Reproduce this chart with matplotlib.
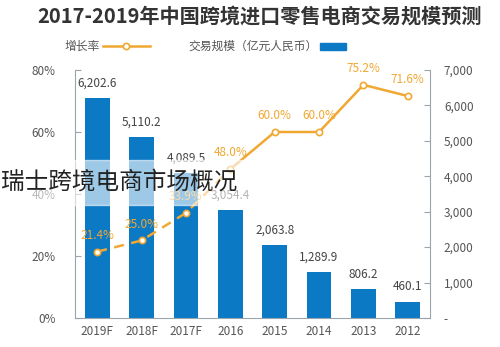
import matplotlib
matplotlib.use("Agg")
import matplotlib.pyplot as plt
from matplotlib.patches import Rectangle
from matplotlib.lines import Line2D

plt.rcParams['font.family'] = ['Noto Sans CJK SC', 'DejaVu Sans']

categories = ['2019F', '2018F', '2017F', '2016', '2015', '2014', '2013', '2012']
volume = [6202.6, 5110.2, 4089.5, 3054.4, 2063.8, 1289.9, 806.2, 460.1]
growth = [21.4, 25.0, 33.9, 48.0, 60.0, 60.0, 75.2, 71.6]
vol_ticks = [0, 1000, 2000, 3000, 4000, 5000, 6000, 7000]
pct_ticks = [0, 20, 40, 60, 80]

BLUE = '#0c79c5'
ORANGE = '#f0a832'
GREY = '#555555'
SPINE = '#9aa4ad'

fig = plt.figure(figsize=(5, 3.47), dpi=100)
ax = fig.add_axes([0.15, 0.0836, 0.71, 0.7147])
x = list(range(len(categories)))
ax2 = ax.twinx()

ax.bar(x, volume, width=0.56, color=BLUE, zorder=2)
for xi, v in zip(x, volume):
    ax.annotate(f'{v:,.1f}', (xi, v), xytext=(0, 6), textcoords='offset points',
                ha='center', va='bottom', fontsize=8.5, color='#444444')
ax.set_ylim(0, 7000)
ax.set_xlim(-0.5, len(categories) - 0.5)
ax.set_yticks(vol_ticks)
ax.set_yticklabels(['-' if t == 0 else f'{t:,}' for t in vol_ticks])
ax.yaxis.tick_right()
ax.tick_params(axis='y', direction='in', length=4, colors=SPINE, labelcolor=GREY, labelsize=8.5, pad=10)
ax.set_xticks(x)
ax.set_xticklabels(categories)
ax.tick_params(axis='x', length=0, labelcolor=GREY, labelsize=8.5, pad=5)
ax.spines['top'].set_visible(False)
for s in ['left', 'right', 'bottom']:
    ax.spines[s].set_color(SPINE)

ax2.set_ylim(0, 80)
ax2.plot(x[:4], growth[:4], color=ORANGE, lw=1.8, ls=(0, (4, 3)), zorder=3)
ax2.plot(x[3:], growth[3:], color=ORANGE, lw=1.8, zorder=3)
ax2.plot(x, growth, ls='none', marker='o', ms=4.5, mfc='white', mec=ORANGE, mew=1.2, zorder=4)
for xi, g in zip(x, growth):
    ax2.annotate(f'{g:.1f}%', (xi, g), xytext=(0, 7), textcoords='offset points',
                 ha='center', va='bottom', fontsize=8.5, color=ORANGE)
ax2.yaxis.tick_left()
ax2.set_yticks(pct_ticks)
ax2.set_yticklabels([f'{t}%' for t in pct_ticks])
ax2.tick_params(axis='y', direction='in', length=4, colors=SPINE, labelcolor=GREY, labelsize=8.5, pad=14)
for s in ['top', 'right', 'left', 'bottom']:
    ax2.spines[s].set_visible(False)

# title
fig.text(0.52, 0.955, '2017-2019年中国跨境进口零售电商交易规模预测', ha='center', va='center',
         fontsize=14.5, fontweight='bold', color='#333333')

# legend (manual)
fig.patches.append(Rectangle((0.64, 0.855), 0.052, 0.022, transform=fig.transFigure,
                             color=BLUE, figure=fig))
fig.text(0.636, 0.866, '交易规模（亿元人民币）', ha='right', va='center', fontsize=8.5, color=GREY)
fig.lines.append(Line2D([0.205, 0.30], [0.866, 0.866], transform=fig.transFigure,
                        color=ORANGE, lw=1.8, figure=fig))
fig.lines.append(Line2D([0.2525], [0.866], transform=fig.transFigure, ls='none', marker='o',
                        ms=4.5, mfc='white', mec=ORANGE, mew=1.2, figure=fig))
fig.text(0.2, 0.866, '增长率', ha='right', va='center', fontsize=8.5, color=GREY)

# overlay band
fig.patches.append(Rectangle((0.0, 0.41), 0.525, 0.13, transform=fig.transFigure,
                             color='white', alpha=0.6, figure=fig, zorder=10))
fig.text(0.002, 0.475, '瑞士跨境电商市场概况', ha='left', va='center', fontsize=17,
         color='#222222', zorder=11)

fig.savefig('out.png', dpi=100)
